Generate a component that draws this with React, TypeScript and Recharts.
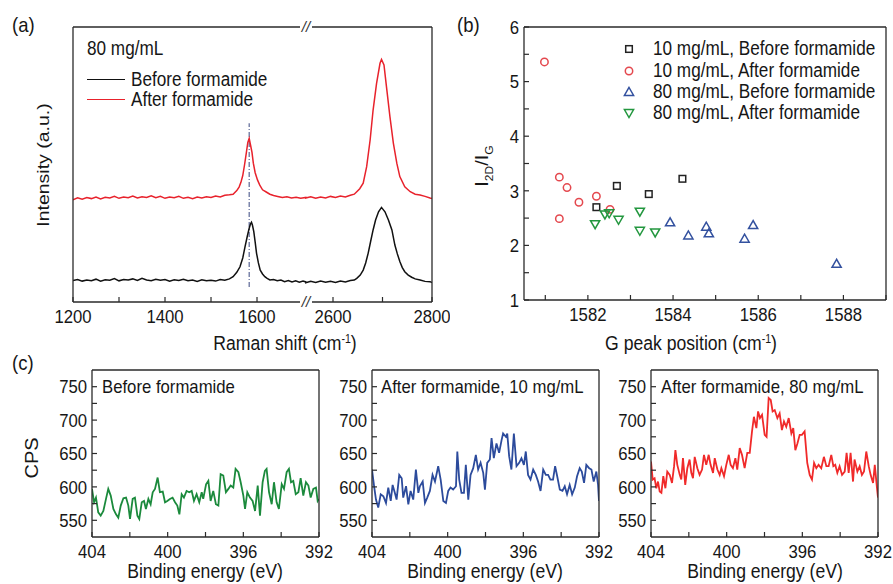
import React from 'react';
import { LineChart, Line, ScatterChart, Scatter, XAxis, YAxis, ReferenceLine } from 'recharts';

// The figure looks horizontally squeezed, so text is drawn a bit narrow
const FONT = '"Liberation Sans", Arial, sans-serif';
const SQUISH = 0.88;
const AXIS = '#2a2a2a';
const INK = '#161616';

// ---------------- (a) Raman spectra ----------------
// broken x axis: 1200-1706 | 2545-2800
const BREAK_LO = 1706;
const BREAK_HI = 2545;
const STRETCH = 1.076;
const toAxis = (s: number) => (s <= BREAK_LO ? s : BREAK_LO + (s - BREAK_HI) * STRETCH);
const fromAxis = (u: number) => Math.round(u <= BREAK_LO + 0.01 ? u : BREAK_HI + (u - BREAK_LO) / STRETCH);

const ramanTicks = [1200, 1300, 1400, 1500, 1600, 2600, 2700, 2800];
const ramanLabels = [1200, 1400, 1600, 2600, 2800];
const intensityTicks = [0, 1, 2, 3, 4, 5, 6, 7, 8, 9, 10];

const beforeShift = [
  1200, 1210, 1220, 1230, 1240, 1250, 1260, 1270, 1280, 1290, 1300, 1310, 1320, 1330, 1340, 1350, 1360, 1370,
  1380, 1390, 1400, 1410, 1420, 1430, 1440, 1450, 1460, 1470, 1480, 1490, 1500, 1510, 1520, 1530, 1540, 1548,
  1556, 1563, 1569, 1574, 1579, 1583, 1586, 1588, 1590, 1593, 1596, 1599, 1603, 1607, 1612, 1617, 1622, 1628,
  1636, 1644, 1652, 1660, 1668, 1676, 1684, 1692, 1700, 1706,
  2545, 2555, 2565, 2575, 2585, 2595, 2605, 2615, 2625, 2635, 2643, 2648, 2655, 2661, 2666, 2671, 2676, 2681,
  2686, 2692, 2698, 2705, 2712, 2719, 2725, 2730, 2735, 2740, 2745, 2752, 2759, 2766, 2776, 2786, 2796, 2800,
];
const beforeIntensity = [
  0.78, 0.82, 0.76, 0.8, 0.77, 0.83, 0.76, 0.81, 0.79, 0.85, 0.77, 0.82, 0.8, 0.84, 0.78, 0.86, 0.8, 0.77,
  0.83, 0.79, 0.82, 0.76, 0.81, 0.78, 0.83, 0.77, 0.8, 0.75, 0.81, 0.77, 0.79, 0.76, 0.82, 0.79, 0.84, 0.92,
  1.08, 1.28, 1.6, 2.01, 2.4, 2.68, 2.84, 2.9, 2.8, 2.56, 2.18, 1.77, 1.42, 1.16, 1.02, 0.92, 0.86, 0.8,
  0.82, 0.77, 0.8, 0.74, 0.78, 0.73, 0.77, 0.72, 0.76, 0.73,
  0.7, 0.75, 0.71, 0.76, 0.72, 0.75, 0.71, 0.76, 0.73, 0.78, 0.8, 0.86, 0.98, 1.16, 1.42, 1.77, 2.2, 2.62,
  2.98, 3.28, 3.44, 3.28, 2.98, 2.62, 2.07, 1.75, 1.47, 1.25, 1.1, 0.98, 0.9, 0.84, 0.8, 0.75, 0.74, 0.71,
];

const afterShift = [
  1200, 1210, 1220, 1230, 1240, 1250, 1260, 1270, 1280, 1290, 1300, 1310, 1320, 1330, 1340, 1350, 1360, 1370,
  1380, 1390, 1400, 1410, 1420, 1430, 1440, 1450, 1460, 1470, 1480, 1490, 1500, 1510, 1520, 1530, 1540, 1548,
  1556, 1561, 1565, 1569, 1573, 1577, 1580, 1583, 1586, 1589, 1592, 1596, 1601, 1606, 1612, 1620, 1628, 1636,
  1645, 1655, 1665, 1675, 1685, 1695, 1706,
  2545, 2555, 2565, 2575, 2585, 2595, 2605, 2615, 2625, 2635, 2643, 2648, 2654, 2661, 2668, 2675, 2681, 2688,
  2695, 2698, 2703, 2708, 2715, 2722, 2729, 2735, 2745, 2756, 2766, 2776, 2786, 2796, 2800,
];
const afterIntensity = [
  3.72, 3.79, 3.74, 3.8, 3.76, 3.82, 3.75, 3.81, 3.78, 3.84, 3.77, 3.82, 3.79, 3.85, 3.78, 3.83, 3.8, 3.86,
  3.79, 3.84, 3.77, 3.82, 3.79, 3.84, 3.77, 3.81, 3.76, 3.82, 3.78, 3.83, 3.8, 3.85, 3.82, 3.88, 3.9, 3.92,
  4.05, 4.18, 4.35, 4.6, 5.0, 5.45, 5.8, 5.95, 5.7, 5.45, 5.05, 4.7, 4.44, 4.25, 4.08, 4.0, 3.92, 3.87,
  3.84, 3.8, 3.83, 3.78, 3.81, 3.77, 3.8,
  3.78, 3.83, 3.77, 3.82, 3.78, 3.84, 3.8, 3.85, 3.82, 3.88, 3.92, 4.01, 4.12, 4.32, 4.92, 5.89, 6.98, 7.95,
  8.68, 8.82, 8.62, 7.83, 6.74, 5.77, 5.04, 4.56, 4.19, 4.01, 3.92, 3.89, 3.84, 3.78, 3.76,
];
const gPeakMark = 1583;

// ---------------- (b) I2D/IG vs G position ----------------
const sq10BeforeX = [1582.2, 1582.68, 1583.43, 1584.22];
const sq10BeforeY = [2.7, 3.09, 2.94, 3.22];
const ci10AfterX = [1580.98, 1581.33, 1581.51, 1581.79, 1581.33, 1582.2, 1582.52];
const ci10AfterY = [5.36, 3.25, 3.06, 2.79, 2.49, 2.9, 2.66];
const up80BeforeX = [1583.93, 1584.36, 1584.78, 1584.84, 1585.68, 1585.88, 1587.84];
const up80BeforeY = [2.42, 2.18, 2.34, 2.22, 2.12, 2.37, 1.66];
const dn80AfterX = [1582.17, 1582.4, 1582.5, 1582.72, 1583.22, 1583.22, 1583.58];
const dn80AfterY = [2.39, 2.57, 2.59, 2.47, 2.62, 2.27, 2.24];
const gTicks = [1581, 1582, 1583, 1584, 1585, 1586, 1587, 1588, 1589];
const ratioTicks = [1, 1.5, 2, 2.5, 3, 3.5, 4, 4.5, 5, 5.5, 6];

// ---------------- (c) XPS N1s ----------------
const energyTicks = [404, 402, 400, 398, 396, 394, 392];
const cpsTicks = [550, 575, 600, 625, 650, 675, 700, 725, 750];

const greenEnergy = [
  404.0, 403.89, 403.79, 403.67, 403.54, 403.4, 403.26, 403.14, 403.01, 402.87, 402.73, 402.61, 402.48, 402.34,
  402.2, 402.08, 401.99, 401.85, 401.73, 401.6, 401.5, 401.37, 401.25, 401.15, 401.02, 400.9, 400.79, 400.67,
  400.53, 400.41, 400.26, 400.14, 400.02, 399.88, 399.74, 399.61, 399.49, 399.38, 399.26, 399.14, 399.0, 398.86,
  398.73, 398.61, 398.47, 398.33, 398.2, 398.12, 397.97, 397.85, 397.73, 397.59, 397.45, 397.32, 397.2, 397.06,
  396.92, 396.79, 396.67, 396.53, 396.41, 396.26, 396.14, 396.0, 395.91, 395.79, 395.65, 395.51, 395.38, 395.24,
  395.12, 394.98, 394.86, 394.77, 394.64, 394.5, 394.38, 394.24, 394.12, 393.97, 393.85, 393.71, 393.59, 393.48,
  393.36, 393.23, 393.09, 392.97, 392.83, 392.69, 392.56, 392.44, 392.3, 392.16, 392.07, 392.0,
];
const greenCps = [
  597, 577, 584, 562, 557, 564, 582, 597, 587, 567, 559, 554, 572, 583, 584, 572, 552, 582, 584, 557,
  552, 577, 579, 567, 582, 574, 592, 597, 614, 592, 593, 577, 579, 582, 584, 577, 572, 559, 589, 584,
  594, 592, 594, 579, 589, 577, 592, 582, 604, 609, 579, 594, 574, 572, 619, 617, 592, 597, 602, 599,
  627, 622, 607, 587, 567, 592, 584, 579, 564, 602, 557, 607, 624, 627, 592, 574, 607, 577, 567, 604,
  597, 622, 627, 607, 609, 589, 592, 613, 587, 607, 602, 584, 597, 599, 579, 582,
];

const blueEnergy = [
  404.0, 403.89, 403.79, 403.67, 403.54, 403.4, 403.26, 403.14, 403.01, 402.91, 402.79, 402.7, 402.56, 402.43,
  402.35, 402.2, 402.08, 401.96, 401.82, 401.68, 401.55, 401.47, 401.32, 401.2, 401.08, 400.94, 400.8, 400.67,
  400.5, 400.37, 400.23, 400.09, 399.97, 399.85, 399.71, 399.56, 399.49, 399.39, 399.27, 399.14, 399.04, 398.91,
  398.79, 398.65, 398.51, 398.39, 398.26, 398.12, 398.03, 397.91, 397.77, 397.68, 397.56, 397.42, 397.28, 397.15,
  397.07, 396.92, 396.85, 396.75, 396.63, 396.5, 396.36, 396.22, 396.1, 395.97, 395.87, 395.75, 395.62, 395.48,
  395.34, 395.22, 395.09, 394.95, 394.81, 394.69, 394.57, 394.43, 394.32, 394.21, 394.07, 393.93, 393.81, 393.69,
  393.55, 393.42, 393.28, 393.16, 393.02, 392.91, 392.79, 392.67, 392.52, 392.4, 392.28, 392.14, 392.05, 392.0,
];
const blueCps = [
  626, 601, 581, 569, 589, 586, 576, 599, 579, 603, 591, 581, 618, 613, 584, 601, 574, 594, 581, 626,
  591, 601, 608, 576, 584, 594, 618, 608, 631, 611, 579, 576, 594, 599, 596, 601, 653, 611, 591, 591,
  633, 581, 618, 628, 648, 626, 636, 621, 596, 636, 641, 673, 643, 665, 651, 670, 680, 675, 680, 646,
  626, 680, 631, 636, 643, 633, 653, 618, 611, 626, 618, 608, 594, 626, 618, 618, 611, 611, 631, 616,
  596, 594, 601, 589, 603, 589, 599, 616, 628, 623, 606, 633, 628, 626, 608, 623, 603, 579,
];

const redEnergy = [
  404.0, 403.91, 403.81, 403.72, 403.63, 403.54, 403.45, 403.35, 403.24, 403.14, 403.01, 402.89, 402.78, 402.71,
  402.61, 402.48, 402.4, 402.31, 402.19, 402.08, 401.96, 401.87, 401.78, 401.69, 401.55, 401.43, 401.3, 401.2,
  401.08, 400.95, 400.85, 400.72, 400.63, 400.49, 400.37, 400.28, 400.14, 400.02, 399.89, 399.79, 399.67, 399.54,
  399.44, 399.31, 399.19, 399.05, 398.91, 398.78, 398.66, 398.56, 398.43, 398.34, 398.24, 398.13, 397.99, 397.89,
  397.78, 397.67, 397.57, 397.46, 397.32, 397.2, 397.08, 396.97, 396.85, 396.72, 396.58, 396.48, 396.37, 396.26,
  396.14, 396.02, 395.88, 395.74, 395.61, 395.49, 395.38, 395.26, 395.14, 395.0, 394.86, 394.73, 394.61, 394.47,
  394.36, 394.26, 394.15, 394.03, 393.9, 393.76, 393.66, 393.55, 393.45, 393.32, 393.24, 393.09, 392.97, 392.85,
  392.74, 392.62, 392.49, 392.39, 392.26, 392.17, 392.07, 392.0,
];
const redCps = [
  638, 611, 613, 598, 608, 593, 591, 616, 598, 623, 618, 606, 631, 655, 633, 618, 611, 643, 603, 628,
  641, 621, 613, 645, 628, 618, 626, 648, 633, 648, 633, 621, 643, 626, 618, 628, 616, 633, 648, 633,
  628, 643, 626, 658, 648, 628, 651, 651, 683, 705, 688, 713, 703, 708, 678, 675, 733, 730, 713, 715,
  703, 710, 685, 698, 690, 703, 680, 688, 655, 665, 678, 678, 683, 636, 618, 611, 636, 628, 633, 628,
  645, 631, 631, 648, 631, 633, 621, 631, 618, 623, 651, 621, 651, 608, 641, 623, 631, 618, 623, 653,
  631, 618, 606, 633, 603, 584,
];

// ---------------- helpers ----------------
const zipRaman = (s: number[], v: number[]) => s.map((x, i) => ({ u: toAxis(x), v: v[i] }));
const zipXps = (e: number[], c: number[]) => e.map((x, i) => ({ e: x, c: c[i] }));
const zipPts = (xs: number[], ys: number[]) => xs.map((x, i) => ({ x, y: ys[i] }));

const SquishTick = (props: any) => {
  const { x, y, payload, fmt, side } = props;
  const label = fmt(payload.value);
  if (label === '') return null;
  return (
    <text
      transform={`translate(${x},${y}) scale(${SQUISH},1)`}
      textAnchor={side === 'bottom' ? 'middle' : 'end'}
      dy={side === 'bottom' ? '0.71em' : '0.355em'}
      fontSize={19}
      fill={INK}
    >
      {label}
    </text>
  );
};

const drawMarker = (kind: string, cx: number, cy: number, color: string) => {
  const common = { fill: 'none', stroke: color, strokeWidth: 1.5 };
  if (kind === 'square') return <rect x={cx - 3.3} y={cy - 3.3} width={6.6} height={6.6} {...common} />;
  if (kind === 'circle') return <circle cx={cx} cy={cy} r={3.7} {...common} />;
  if (kind === 'up') return <polygon points={`${cx},${cy - 4.6} ${cx - 4.6},${cy + 3.4} ${cx + 4.6},${cy + 3.4}`} {...common} />;
  return <polygon points={`${cx - 4.6},${cy - 3.4} ${cx + 4.6},${cy - 3.4} ${cx},${cy + 4.6}`} {...common} />;
};

function frameAxes(o: {
  xKey: string; xDomain: number[]; xTicks: number[]; xFmt: (v: number) => string; reversed?: boolean;
  yDomain: number[]; yTicks: number[]; yFmt: ((v: number) => string) | null;
  top: number; bottom: number; left: number; right: number;
}) {
  const common = {
    stroke: AXIS, tickSize: -5, interval: 0 as const, allowDataOverflow: true, type: 'number' as const,
    axisLine: { strokeWidth: 1.3 }, tickLine: { strokeWidth: 1.2 },
  };
  return [
    <XAxis key="xb" xAxisId="b" dataKey={o.xKey} domain={o.xDomain} ticks={o.xTicks} reversed={o.reversed}
      height={o.bottom} tickMargin={12} {...common}
      tick={(p: any) => <SquishTick {...p} fmt={o.xFmt} side="bottom" />} />,
    <XAxis key="xt" xAxisId="t" orientation="top" domain={o.xDomain} ticks={o.xTicks} reversed={o.reversed}
      height={o.top} tick={false} {...common} />,
    <YAxis key="yl" yAxisId="l" domain={o.yDomain} ticks={o.yTicks} width={o.left} tickMargin={10} {...common}
      tick={o.yFmt ? (p: any) => <SquishTick {...p} fmt={o.yFmt} side="left" /> : false} />,
    <YAxis key="yr" yAxisId="r" orientation="right" domain={o.yDomain} ticks={o.yTicks} width={o.right}
      tick={false} {...common} />,
  ];
}

const Txt = ({ x, y, children, size = 19.5, center = false, rotate = false, color = INK }: any) => {
  let transform = `translateY(-50%) scaleX(${SQUISH})`;
  if (center) transform = `translate(-50%,-50%) scaleX(${SQUISH})`;
  if (rotate) transform = `translate(-50%,-50%) scaleX(${SQUISH}) rotate(-90deg)`;
  return (
    <div style={{
      position: 'absolute', left: x, top: y, fontSize: size, lineHeight: 1, whiteSpace: 'nowrap', color,
      transform, transformOrigin: center || rotate ? 'center' : 'left center',
    }}>
      {children}
    </div>
  );
};

const bSeries = [
  { name: '10 mg/mL, Before formamide', kind: 'square', color: '#222222', data: zipPts(sq10BeforeX, sq10BeforeY) },
  { name: '10 mg/mL, After formamide', kind: 'circle', color: '#e4484e', data: zipPts(ci10AfterX, ci10AfterY) },
  { name: '80 mg/mL, Before formamide', kind: 'up', color: '#33519f', data: zipPts(up80BeforeX, up80BeforeY) },
  { name: '80 mg/mL, After formamide', kind: 'down', color: '#23973f', data: zipPts(dn80AfterX, dn80AfterY) },
];
const legendRows = [49, 71, 92, 113];

// plot areas of (c) are 227 px wide; extra room on the right lets "392" show fully
const xpsPanels = [
  { left: 0, yW: 92, rW: 11, title: 'Before formamide', color: '#1b8a3c', data: zipXps(greenEnergy, greenCps) },
  { left: 330, yW: 42, rW: 12, title: 'After formamide, 10 mg/mL', color: '#2c4b9c', data: zipXps(blueEnergy, blueCps) },
  { left: 610, yW: 41, rW: 15, title: 'After formamide, 80 mg/mL', color: '#f02a2a', data: zipXps(redEnergy, redCps) },
];
const XPS_SPARE = 20;

const fmtRaman = (u: number) => {
  const s = fromAxis(u);
  return ramanLabels.includes(s) ? String(s) : '';
};
const fmtEven = (v: number) => (v % 2 === 0 ? String(v) : '');
const fmtInt = (v: number) => (Number.isInteger(v) ? String(v) : '');
const fmtFifty = (v: number) => (v % 50 === 0 ? String(v) : '');
const fmtEnergy = (v: number) => (v % 4 === 0 ? String(v) : '');

export default function App() {
  return (
    <div style={{ position: 'absolute', left: 0, top: 0, width: 893, height: 584, background: '#fff', fontFamily: FONT, color: INK, overflow: 'hidden' }}>
      {/* (a) Raman */}
      <div style={{ position: 'absolute', left: 0, top: 0 }}>
        <LineChart width={450} height={340} margin={{ top: 0, right: 0, bottom: 0, left: 0 }}>
          {frameAxes({
            xKey: 'u', xDomain: [1200, toAxis(2800)], xTicks: ramanTicks.map(toAxis), xFmt: fmtRaman,
            yDomain: [0, 10], yTicks: intensityTicks, yFmt: null, top: 27, bottom: 38, left: 73, right: 18,
          })}
          <ReferenceLine xAxisId="b" yAxisId="l" segment={[{ x: gPeakMark, y: 0.55 }, { x: gPeakMark, y: 6.5 }]}
            stroke="#5b6796" strokeWidth={1.2} strokeDasharray="5 2 1 2" />
          <Line xAxisId="b" yAxisId="l" data={zipRaman(beforeShift, beforeIntensity)} dataKey="v" stroke="#111"
            strokeWidth={1.5} dot={false} isAnimationActive={false} />
          <Line xAxisId="b" yAxisId="l" data={zipRaman(afterShift, afterIntensity)} dataKey="v" stroke="#e8222c"
            strokeWidth={1.5} dot={false} isAnimationActive={false} />
        </LineChart>
      </div>
      {['top', 'bottom'].map((k) => (
        <div key={k} style={{ position: 'absolute', left: 300, top: k === 'top' ? 19 : 294, width: 12, height: 16,
          background: '#fff', fontSize: 15, lineHeight: '16px', textAlign: 'center', fontStyle: 'italic', color: '#333' }}>//</div>
      ))}
      <Txt x={12} y={24} size={21}>(a)</Txt>
      <Txt x={87} y={49}>80 mg/mL</Txt>
      <div style={{ position: 'absolute', left: 87, top: 79, width: 38, borderTop: '1.6px solid #111' }} />
      <Txt x={131} y={80}>Before formamide</Txt>
      <div style={{ position: 'absolute', left: 87, top: 99, width: 38, borderTop: '1.6px solid #e8222c' }} />
      <Txt x={131} y={100}>After formamide</Txt>
      <Txt x={43} y={165} rotate>Intensity (a.u.)</Txt>
      <Txt x={285} y={343} center size={20}>Raman shift (cm<sup style={{ fontSize: 12 }}>-1</sup>)</Txt>

      {/* (b) ratio vs G position */}
      <div style={{ position: 'absolute', left: 440, top: 0 }}>
        <ScatterChart width={453} height={340} margin={{ top: 0, right: 0, bottom: 0, left: 0 }}>
          {frameAxes({
            xKey: 'x', xDomain: [1580.5, 1589], xTicks: gTicks, xFmt: fmtEven,
            yDomain: [1, 6], yTicks: ratioTicks, yFmt: fmtInt, top: 27, bottom: 40, left: 84, right: 7,
          })}
          {bSeries.map((s) => (
            <Scatter key={s.name} xAxisId="b" yAxisId="l" data={s.data} dataKey="y" isAnimationActive={false}
              shape={(p: any) => drawMarker(s.kind, p.cx, p.cy, s.color)} />
          ))}
        </ScatterChart>
      </div>
      {bSeries.map((s, i) => (
        <React.Fragment key={s.name}>
          <svg style={{ position: 'absolute', left: 622, top: legendRows[i] - 7 }} width={14} height={14}>
            {drawMarker(s.kind, 7, 7, s.color)}
          </svg>
          <Txt x={653} y={legendRows[i]}>{s.name}</Txt>
        </React.Fragment>
      ))}
      <Txt x={457} y={24} size={21}>(b)</Txt>
      <Txt x={484} y={166} rotate size={20}>I<sub style={{ fontSize: 12 }}>2D</sub>/I<sub style={{ fontSize: 12 }}>G</sub></Txt>
      <Txt x={691} y={343} center size={20}>G peak position (cm<sup style={{ fontSize: 12 }}>-1</sup>)</Txt>

      {/* (c) XPS */}
      {xpsPanels.map((pnl) => (
        <div key={pnl.title} style={{ position: 'absolute', left: pnl.left, top: 340 }}>
          <LineChart width={pnl.yW + 227 + pnl.rW + XPS_SPARE} height={244}
            margin={{ top: 0, right: XPS_SPARE, bottom: 0, left: 0 }}>
            {frameAxes({
              xKey: 'e', xDomain: [392, 404], xTicks: energyTicks, xFmt: fmtEnergy, reversed: true,
              yDomain: [525, 775], yTicks: cpsTicks, yFmt: fmtFifty, top: 30, bottom: 47, left: pnl.yW,
              right: pnl.rW,
            })}
            <Line xAxisId="b" yAxisId="l" data={pnl.data} dataKey="c" stroke={pnl.color} strokeWidth={1.8}
              dot={false} isAnimationActive={false} />
          </LineChart>
        </div>
      ))}
      <Txt x={102} y={386} size={19}>Before formamide</Txt>
      <Txt x={381} y={386} size={19}>After formamide, 10 mg/mL</Txt>
      <Txt x={661} y={386} size={19}>After formamide, 80 mg/mL</Txt>
      <Txt x={12} y={362} size={21}>(c)</Txt>
      <Txt x={32} y={458} rotate size={20}>CPS</Txt>
      <Txt x={205} y={571} center size={20}>Binding energy (eV)</Txt>
      <Txt x={485} y={571} center size={20}>Binding energy (eV)</Txt>
      <Txt x={765} y={571} center size={20}>Binding energy (eV)</Txt>
    </div>
  );
}
